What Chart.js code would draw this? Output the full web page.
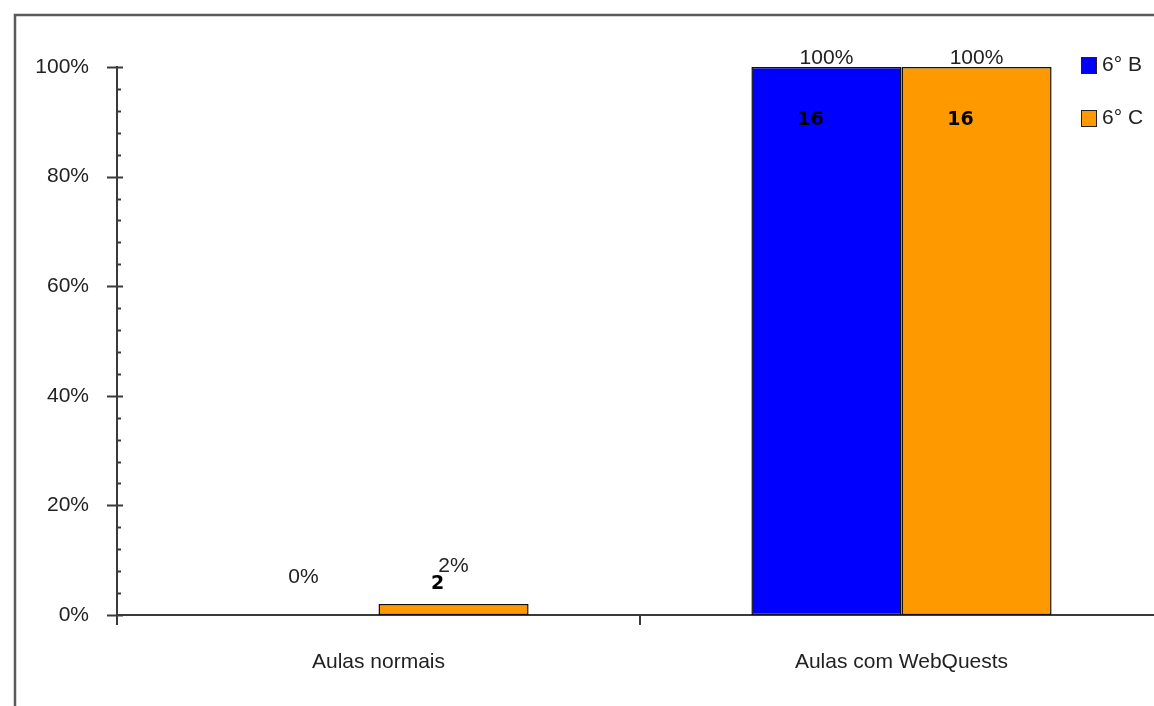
<!DOCTYPE html>
<html>
<head>
<meta charset="utf-8">
<script src="https://cdn.jsdelivr.net/npm/chart.js@4.4.1/dist/chart.umd.min.js"></script>
<style>
  html, body { margin: 0; padding: 0; overflow: hidden; background: #fff; }
  #wrap { width: 1200px; height: 706px; position: relative; }
</style>
</head>
<body>
<div id="wrap"><canvas id="c"></canvas></div>
<script>
// Categories and series
const categories = ['Aulas normais', 'Aulas com WebQuests'];
const seriesNames = ['6° B', '6° C'];
const pct6B = [0, 100];     // share of pupils, %
const pct6C = [2, 100];
const count6B = [0, 16];    // number of pupils
const count6C = [2, 16];
const yTicks = [0, 20, 40, 60, 80, 100];

const FONT = '"Liberation Sans", Arial, sans-serif';
const BLUE = '#0000ff';
const ORANGE = '#ff9900';
const counts = [count6B, count6C];

// white page with the grey outer frame
const framePlugin = {
  id: 'frame',
  beforeDraw(chart) {
    const ctx = chart.ctx;
    ctx.save();
    ctx.fillStyle = '#fff';
    ctx.fillRect(0, 0, chart.width, chart.height);
    ctx.strokeStyle = '#5a5a5a';
    ctx.lineWidth = 2.5;
    ctx.strokeRect(15, 15, chart.width + 40, chart.height + 40);
    ctx.restore();
  }
};

// y axis minor and major tick marks
const yTickPlugin = {
  id: 'yTickMarks',
  afterDraw(chart) {
    const ctx = chart.ctx;
    const y = chart.scales.y;
    const x0 = chart.chartArea.left;
    ctx.save();
    ctx.strokeStyle = '#3a3a3a';
    ctx.lineWidth = 2;
    for (let v = 0; v <= 100; v += 4) {
      const py = Math.round(y.getPixelForValue(v)) + 0.5;
      ctx.beginPath();
      if (v % 20 === 0) { ctx.moveTo(x0 - 10, py); ctx.lineTo(x0 + 6, py); }
      else { ctx.moveTo(x0, py); ctx.lineTo(x0 + 4, py); }
      ctx.stroke();
    }
    ctx.restore();
  }
};

// value labels: percentage above each bar, bold count near the top
const labelPlugin = {
  id: 'valueLabels',
  afterDatasetsDraw(chart) {
    const ctx = chart.ctx;
    const top = chart.chartArea.top;
    ctx.save();
    ctx.textAlign = 'center';
    ctx.textBaseline = 'middle';
    chart.data.datasets.forEach((ds, di) => {
      const meta = chart.getDatasetMeta(di);
      meta.data.forEach((bar, i) => {
        const v = ds.data[i];
        ctx.font = '21px ' + FONT;
        ctx.fillStyle = '#222';
        ctx.fillText(v + '%', bar.x, Math.max(bar.y - 38, top - 9));
        const n = counts[di][i];
        if (n > 0) {
          const tall = bar.base - bar.y > 80;
          ctx.font = 'bold 19px "DejaVu Sans", Verdana, sans-serif';
          ctx.fillStyle = '#000';
          ctx.fillText(String(n), bar.x - 16, tall ? bar.y + 53 : bar.y - 20);
        }
      });
    });
    ctx.restore();
  }
};

// legend squares at the top right
const legendPlugin = {
  id: 'sideLegend',
  afterDraw(chart) {
    const ctx = chart.ctx;
    const rows = [65, 118];
    ctx.save();
    chart.data.datasets.forEach((ds, i) => {
      const cy = rows[i];
      ctx.fillStyle = ds.backgroundColor;
      ctx.fillRect(1081, cy - 8, 16, 17);
      ctx.strokeStyle = '#222';
      ctx.lineWidth = 1;
      ctx.strokeRect(1081.5, cy - 7.5, 15, 16);
      ctx.fillStyle = '#222';
      ctx.font = '21px ' + FONT;
      ctx.textAlign = 'left';
      ctx.textBaseline = 'middle';
      ctx.fillText(ds.label, 1102, cy);
    });
    ctx.restore();
  }
};

new Chart(document.getElementById('c'), {
  type: 'bar',
  data: {
    labels: categories,
    datasets: [
      { label: seriesNames[0], data: pct6B, backgroundColor: BLUE, borderColor: '#111', borderWidth: 1.5, borderSkipped: false },
      { label: seriesNames[1], data: pct6C, backgroundColor: ORANGE, borderColor: '#111', borderWidth: 1.5, borderSkipped: false }
    ]
  },
  options: {
    responsive: true,
    maintainAspectRatio: false,
    animation: false,
    layout: { padding: { top: 67, right: 37, left: 0, bottom: 0 } },
    datasets: { bar: { categoryPercentage: 0.574, barPercentage: 1.0 } },
    plugins: { legend: { display: false }, tooltip: { enabled: false } },
    scales: {
      x: {
        grid: { display: true, drawOnChartArea: false, drawTicks: true, tickLength: 10, color: '#3a3a3a', lineWidth: 2, offset: true },
        border: { display: true, color: '#3a3a3a', width: 2 },
        ticks: { font: { family: FONT, size: 21 }, color: '#222', padding: 25, maxRotation: 0 },
        afterFit(s) { s.height = 91; }
      },
      y: {
        min: 0, max: 100,
        afterBuildTicks(s) { s.ticks = yTicks.map(v => ({ value: v })); },
        grid: { display: false },
        border: { display: true, color: '#3a3a3a', width: 2 },
        ticks: { font: { family: FONT, size: 21 }, color: '#222', padding: 20, callback: v => v + '%' },
        afterFit(s) { s.width = 117; }
      }
    }
  },
  plugins: [framePlugin, yTickPlugin, labelPlugin, legendPlugin]
});
</script>
</body>
</html>
